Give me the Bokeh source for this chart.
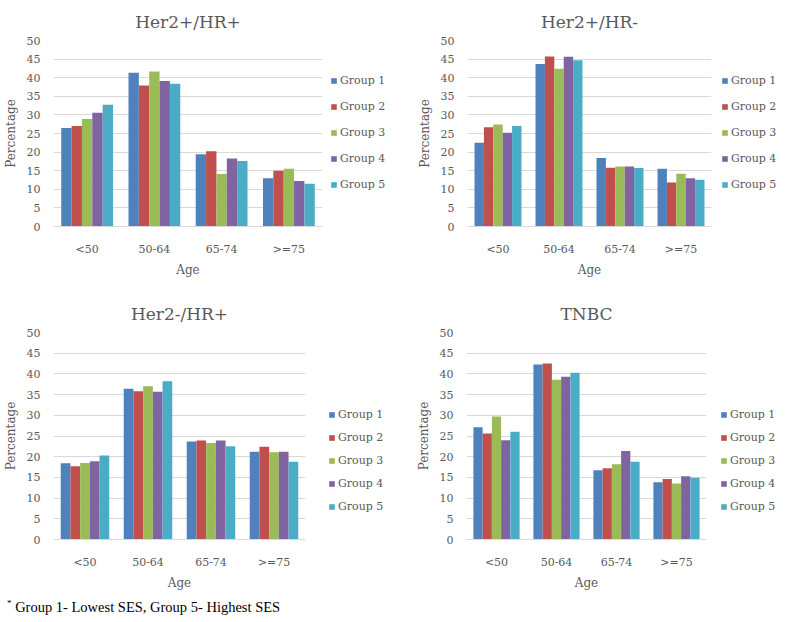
from bokeh.plotting import figure
from bokeh.models import ColumnDataSource, FactorRange, Legend, LegendItem, Div, Range1d, FixedTicker
from bokeh.transform import dodge
from bokeh.layouts import column, row
from bokeh.embed import file_html
from bokeh.resources import INLINE

ages = ["<50", "50-64", "65-74", ">=75"]
groups = ["Group 1", "Group 2", "Group 3", "Group 4", "Group 5"]
colors = ["#4F81BD", "#C0504D", "#9BBB59", "#8064A2", "#4BACC6"]
y_ticks = [0, 5, 10, 15, 20, 25, 30, 35, 40, 45, 50]

# values per group (Group 1..5), across ages
her2pos_hrpos = [
    [26.5, 41.3, 19.4, 13.0],
    [27.0, 37.9, 20.2, 15.0],
    [28.9, 41.7, 14.1, 15.5],
    [30.6, 39.1, 18.3, 12.2],
    [32.7, 38.4, 17.6, 11.5],
]
her2pos_hrneg = [
    [22.5, 43.7, 18.4, 15.5],
    [26.7, 45.7, 15.8, 11.8],
    [27.4, 42.4, 16.1, 14.2],
    [25.2, 45.6, 16.1, 13.0],
    [27.0, 44.7, 15.7, 12.6],
]
her2neg_hrpos = [
    [18.4, 36.4, 23.7, 21.2],
    [17.7, 35.8, 23.9, 22.4],
    [18.5, 37.0, 23.3, 21.1],
    [18.9, 35.7, 23.9, 21.2],
    [20.3, 38.2, 22.5, 18.8],
]
tnbc = [
    [27.1, 42.3, 16.7, 13.8],
    [25.6, 42.5, 17.2, 14.6],
    [29.7, 38.6, 18.2, 13.5],
    [24.0, 39.3, 21.4, 15.3],
    [26.0, 40.3, 18.8, 14.9],
]

FONT = "DejaVu Serif"
TXT = "#595959"
GRID = "#D9D9D9"


def make_source(data):
    src = {"age": ages}
    for i, g in enumerate(groups):
        src["g%d" % (i + 1)] = data[i]
    return ColumnDataSource(src)


def make_panel(title, source, fw, fh, bl, br, bt, bb, title_standoff):
    p = figure(x_range=FactorRange(*ages), y_range=Range1d(0, 50),
               frame_width=fw, frame_height=fh,
               output_backend="svg", toolbar_location=None, title=title,
               min_border_left=bl, min_border_right=br, min_border_top=bt, min_border_bottom=bb)
    p.x_range.range_padding = 0
    bw = 0.154
    for i, g in enumerate(groups):
        off = (i - 2) * bw
        p.vbar(x=dodge("age", off, range=p.x_range), top="g%d" % (i + 1), width=bw,
               source=source, fill_color=colors[i], line_color=None)
    p.title.text_font = FONT
    p.title.text_font_size = "17px"
    p.title.text_font_style = "normal"
    p.title.text_color = TXT
    p.title.align = "center"
    p.title.standoff = title_standoff
    p.outline_line_color = None
    p.background_fill_color = "white"
    p.border_fill_color = "white"
    p.xgrid.grid_line_color = None
    p.ygrid.grid_line_color = GRID
    p.ygrid.grid_line_width = 1
    p.yaxis.ticker = FixedTicker(ticks=y_ticks)
    for ax in (p.xaxis[0], p.yaxis[0]):
        ax.major_tick_line_color = None
        ax.minor_tick_line_color = None
        ax.major_label_text_font = FONT
        ax.major_label_text_font_size = "11px"
        ax.major_label_text_color = TXT
        ax.axis_label_text_font = FONT
        ax.axis_label_text_font_size = "12px"
        ax.axis_label_text_font_style = "normal"
        ax.axis_label_text_color = TXT
    p.yaxis.axis_line_color = None
    p.xaxis.axis_line_color = GRID
    p.xaxis.axis_label = "Age"
    p.yaxis.axis_label = "Percentage"
    p.yaxis.major_label_standoff = 7
    p.yaxis.axis_label_standoff = 6
    p.xaxis.major_label_standoff = 10
    p.xaxis.axis_label_standoff = 4
    return p


def make_legend(source, fw, fh, bt, bb, leg_x, leg_y, spacing):
    # legend-only panel: its bars have zero size and lie outside its y range,
    # so only the legend entries are seen
    lp = figure(frame_width=fw, frame_height=fh, output_backend="svg", toolbar_location=None,
                x_axis_location=None, y_axis_location=None,
                min_border_left=0, min_border_right=0, min_border_top=bt, min_border_bottom=bb,
                x_range=FactorRange(*ages), y_range=Range1d(60, 61))
    lp.outline_line_color = None
    lp.xgrid.grid_line_color = None
    lp.ygrid.grid_line_color = None
    items = []
    for i, g in enumerate(groups):
        col = "g%d" % (i + 1)
        r = lp.vbar(x="age", top=col, bottom=col, width=0, source=source,
                    fill_color=colors[i], line_color=None)
        items.append(LegendItem(label=g, renderers=[r]))
    leg = Legend(items=items, location=(leg_x, leg_y), orientation="vertical")
    leg.border_line_color = None
    leg.background_fill_alpha = 0
    leg.padding = 0
    leg.margin = 0
    leg.glyph_width = 7
    leg.glyph_height = 7
    leg.label_height = 12
    leg.label_standoff = 3
    leg.spacing = spacing
    leg.label_text_font = FONT
    leg.label_text_font_size = "11px"
    leg.label_text_color = TXT
    lp.add_layout(leg)
    return lp


s1 = make_source(her2pos_hrpos)
s2 = make_source(her2pos_hrneg)
s3 = make_source(her2neg_hrpos)
s4 = make_source(tnbc)

TOP_FH, TOP_BT, TOP_BB = 186, 34, 62
BOT_FH, BOT_BT, BOT_BB = 207, 44, 51

p1 = make_panel("Her2+/HR+", s1, 269, TOP_FH, 44, 6, TOP_BT, TOP_BB, 18)
l1 = make_legend(s1, 73, TOP_FH, TOP_BT, TOP_BB, 2, 35, 13)
p2 = make_panel("Her2+/HR-", s2, 244, TOP_FH, 66, 8, TOP_BT, TOP_BB, 18)
l2 = make_legend(s2, 59, TOP_FH, TOP_BT, TOP_BB, 2, 35, 13)
p3 = make_panel("Her2-/HR+", s3, 252, BOT_FH, 45, 6, BOT_BT, BOT_BB, 18)
l3 = make_legend(s3, 89, BOT_FH, BOT_BT, BOT_BB, 17, 26, 10)
p4 = make_panel("TNBC", s4, 240, BOT_FH, 66, 8, BOT_BT, BOT_BB, 18)
l4 = make_legend(s4, 63, BOT_FH, BOT_BT, BOT_BB, 6, 26, 10)

note = Div(text='<span style="font-family:\'Liberation Serif\'; font-size:14.5px; color:#000;">'
                '<sup style="font-size:9px">*</sup> Group 1- Lowest SES, Group 5- Highest SES</span>',
           width=400, height=20, styles={"padding-left": "2px"})

layout = column(row(p1, l1, p2, l2), row(p3, l3, p4, l4), note)
open("out.html", "w").write(file_html(layout, INLINE))
